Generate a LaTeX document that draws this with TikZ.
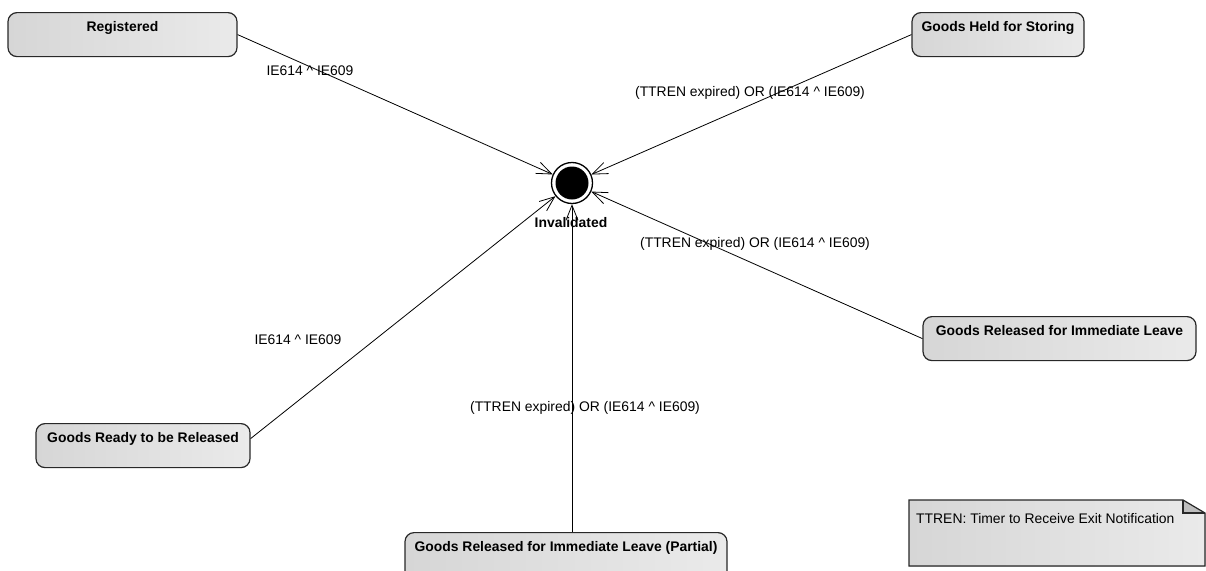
\documentclass[tikz,border=0pt]{standalone}
\usepackage{fontspec}
\setmainfont{Liberation Sans}
\usetikzlibrary{arrows.meta}
\definecolor{boxL}{RGB}{214,214,214}
\definecolor{boxR}{RGB}{234,234,234}
\definecolor{edgeC}{RGB}{40,40,40}
\definecolor{foldC}{RGB}{190,190,190}
\begin{document}
\begin{tikzpicture}[x=1pt,y=-1pt,
  statebox/.style={draw=edgeC, line width=1.2pt, rounded corners=9pt,
    left color=boxL, right color=boxR, anchor=north,
    font=\bfseries\fontsize{13.9}{16}\selectfont,
    text height=10pt, text depth=16pt, inner ysep=9pt, inner xsep=0pt},
  lab/.style={font=\fontsize{13.9}{16}\selectfont, anchor=base, inner sep=0pt},
  arr/.style={-{Straight Barb[length=15pt,width=12pt]}, line width=0.8pt, draw=black}
]
\useasboundingbox (0,0) rectangle (1206,570);
\clip (0,0) rectangle (1206,570);

% states
\node[statebox, minimum width=229pt] (reg) at (122.5,12) {Registered};
\node[statebox, minimum width=172pt] (held) at (998,12) {Goods Held for Storing};
\node[statebox, minimum width=273pt] (gril) at (1059.5,316) {Goods Released for Immediate Leave};
\node[statebox, minimum width=214pt] (ready) at (143,423) {Goods Ready to be Released};
\node[statebox, minimum width=322pt, text depth=30pt] (part) at (566,532) {Goods Released for Immediate Leave (Partial)};

% final state
\node[circle, draw=black, line width=1.3pt, minimum size=41pt, inner sep=0pt] (fin) at (572,183) {};
\node[circle, fill=black, minimum size=33pt, inner sep=0pt] (fincore) at (fin.center) {};
\node[anchor=base, inner sep=0pt, font=\bfseries\fontsize{13.9}{16}\selectfont] (finlab) at (571,227) {Invalidated};

% transitions
\draw[arr] (reg.east) -- (fin);
\draw[arr] (held.west) -- (fin);
\draw[arr] (gril.west) -- (fin);
\draw[arr] ([yshift=7pt]ready.east) -- (fin);
\draw[arr] (part.north -| fin.south) -- (fin.south);

% labels
\node[lab] (l1) at (310,75) {IE614 \^{} IE609};
\node[lab] (l2) at (750,96) {(TTREN expired) OR (IE614 \^{} IE609)};
\node[lab] (l3) at (755,247) {(TTREN expired) OR (IE614 \^{} IE609)};
\node[lab] (l4) at (298,344) {IE614 \^{} IE609};
\node[lab] (l5) at (585,411) {(TTREN expired) OR (IE614 \^{} IE609)};

% note
\coordinate (n1) at (909,500);
\coordinate (n2) at (1183,500);
\coordinate (n3) at (1205,513);
\coordinate (n4) at (1205,566);
\coordinate (n5) at (909,566);
\coordinate (nf) at (1183,513);
\fill[left color=boxL, right color=boxR] (n1) -- (n2) -- (n3) -- (n4) -- (n5) -- cycle;
\fill[foldC] (n2) -- (nf) -- (n3) -- cycle;
\draw[edgeC, line width=1.2pt, line join=miter] (n1) -- (n2) -- (n3) -- (n4) -- (n5) -- cycle;
\draw[edgeC, line width=1.2pt] (n2) -- (nf) -- (n3);
\node[anchor=base west, inner sep=0pt, font=\fontsize{13.9}{16}\selectfont] (note) at (916,523) {TTREN: Timer to Receive Exit Notification};
\end{tikzpicture}
\end{document}
